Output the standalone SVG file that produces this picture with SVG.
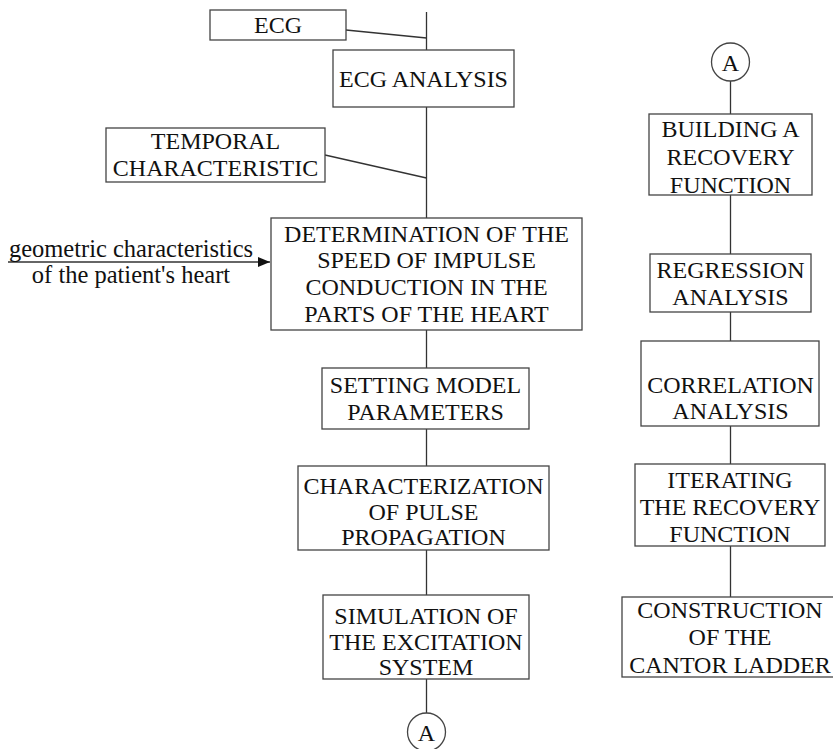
<svg xmlns="http://www.w3.org/2000/svg" width="833" height="749" viewBox="0 0 833 749">
<style>
text{font-family:'Liberation Serif',serif;font-size:24px;fill:#111;text-anchor:middle}
.b{fill:#fff;stroke:#444;stroke-width:1.3}
.c{fill:none;stroke:#333;stroke-width:1.3}
.g{font-size:24.5px}
</style>
<defs>
<marker id="ar" markerWidth="12" markerHeight="10" refX="12" refY="5" orient="auto" markerUnits="userSpaceOnUse">
<path d="M0,0 L12,5 L0,10 z" fill="#111"/>
</marker>
</defs>
<g id="connectors">
<line class="c" x1="426.5" y1="12" x2="426.5" y2="50"/>
<line class="c" x1="346" y1="30" x2="426.5" y2="38"/>
<line class="c" x1="426.5" y1="107" x2="426.5" y2="218"/>
<line class="c" x1="325" y1="155" x2="426.5" y2="178"/>
<line class="c" x1="8" y1="262" x2="270" y2="262" marker-end="url(#ar)"/>
<line class="c" x1="426.5" y1="330" x2="426.5" y2="368"/>
<line class="c" x1="426.5" y1="429" x2="426.5" y2="466"/>
<line class="c" x1="426.5" y1="550" x2="426.5" y2="595"/>
<line class="c" x1="426.5" y1="679" x2="426.5" y2="713"/>
<line class="c" x1="730.5" y1="81" x2="730.5" y2="114"/>
<line class="c" x1="730.5" y1="195" x2="730.5" y2="254"/>
<line class="c" x1="730.5" y1="312" x2="730.5" y2="341"/>
<line class="c" x1="730.5" y1="426" x2="730.5" y2="464"/>
<line class="c" x1="730.5" y1="546" x2="730.5" y2="597"/>
</g>
<g id="ecg"><rect class="b" x="210" y="10" width="136" height="30"/><text x="278" y="33">ECG</text></g>
<g id="ecg-analysis"><rect class="b" x="333" y="50" width="181" height="57"/><text x="423.5" y="87">ECG ANALYSIS</text></g>
<g id="temporal"><rect class="b" x="106" y="128" width="219" height="54"/><text x="215.5" y="149">TEMPORAL</text><text x="215.5" y="176">CHARACTERISTIC</text></g>
<g id="geometric"><text class="g" x="131" y="257">geometric characteristics</text><text class="g" x="131" y="283">of the patient's heart</text></g>
<g id="determination"><rect class="b" x="271" y="218" width="311" height="112"/>
<text x="426.5" y="242">DETERMINATION OF THE</text><text x="426.5" y="268">SPEED OF IMPULSE</text><text x="426.5" y="295">CONDUCTION IN THE</text><text x="426.5" y="322">PARTS OF THE HEART</text></g>
<g id="setting"><rect class="b" x="322" y="368" width="207" height="61"/><text x="425.5" y="393">SETTING MODEL</text><text x="425.5" y="420">PARAMETERS</text></g>
<g id="characterization"><rect class="b" x="298" y="466" width="251" height="84"/><text x="423.5" y="494">CHARACTERIZATION</text><text x="423.5" y="520">OF PULSE</text><text x="423.5" y="545">PROPAGATION</text></g>
<g id="simulation"><rect class="b" x="323" y="595" width="206" height="84"/><text x="426" y="624">SIMULATION OF</text><text x="426" y="650">THE EXCITATION</text><text x="426" y="675">SYSTEM</text></g>
<g id="a-bottom"><circle class="b" cx="426.5" cy="732" r="19"/><text x="426.5" y="741">A</text></g>
<g id="a-top"><circle class="b" cx="730.5" cy="62" r="19"/><text x="730.5" y="71">A</text></g>
<g id="building"><rect class="b" x="649" y="114" width="163" height="81"/><text x="730.5" y="137">BUILDING A</text><text x="730.5" y="165">RECOVERY</text><text x="730.5" y="193">FUNCTION</text></g>
<g id="regression"><rect class="b" x="650" y="254" width="161" height="58"/><text x="730.5" y="278">REGRESSION</text><text x="730.5" y="305">ANALYSIS</text></g>
<g id="correlation"><rect class="b" x="641" y="341" width="178" height="85"/><text x="730.5" y="393">CORRELATION</text><text x="730.5" y="419">ANALYSIS</text></g>
<g id="iterating"><rect class="b" x="635" y="464" width="190" height="82"/><text x="730" y="488">ITERATING</text><text x="730" y="515">THE RECOVERY</text><text x="730" y="542">FUNCTION</text></g>
<g id="construction"><rect class="b" x="622" y="597" width="218" height="80"/><text x="730" y="618">CONSTRUCTION</text><text x="730" y="645">OF THE</text><text x="730" y="673">CANTOR LADDER</text></g>
</svg>
